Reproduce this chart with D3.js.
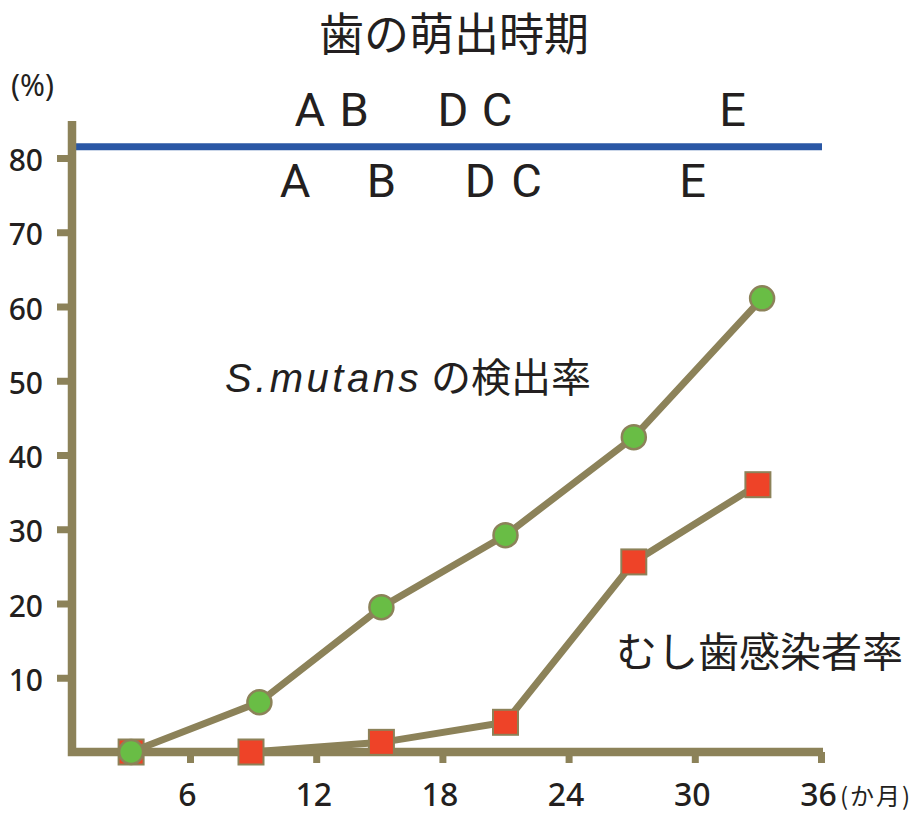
<!DOCTYPE html>
<html>
<head>
<meta charset="utf-8">
<script src="https://cdn.jsdelivr.net/npm/d3@7"></script>
<style>
  html, body { margin: 0; padding: 0; background: #fff; }
  svg { display: block; }
  text { fill: #231f20; }
</style>
</head>
<body>
<svg id="chart" width="919" height="814"></svg>
<script>
// Detection rate of S. mutans (%) by age in months
const mutansMonths = [3.2, 9.3, 15.1, 21.0, 27.1, 33.2];
const mutansRate   = [0, 6.7, 19.5, 29.2, 42.4, 61.1];

// Caries infection rate (%) by age in months
const cariesMonths = [3.2, 8.9, 15.1, 21.0, 27.1, 33.0];
const cariesRate   = [0, 0, 1.3, 4.0, 25.6, 36.0];

// Tooth eruption timing (months): upper row and lower row of letters
const eruptUpperTeeth  = ["A", "B", "D", "C", "E"];
const eruptUpperMonths = [11.7, 13.8, 18.5, 20.6, 31.8];
const eruptLowerTeeth  = ["A", "B", "D", "C", "E"];
const eruptLowerMonths = [11.0, 15.1, 19.8, 22.0, 29.9];
const eruptLineLevel = 81.5;

const xTicks = [6, 12, 18, 24, 30, 36];
const yTicks = [10, 20, 30, 40, 50, 60, 70, 80];

const AXIS = "#8c8259";
const GREEN = "#69bd45";
const RED = "#ee4328";
const BLUE = "#2a57a5";
const digitFont = "'Noto Sans', 'Open Sans', sans-serif";
const jpFont = "'Noto Sans CJK JP', sans-serif";

const svg = d3.select("#chart");

const x = d3.scaleLinear().domain([0, 36]).range([63.8, 821]);
const y = d3.scaleLinear().domain([0, 85]).range([752, 752 - 85 * 7.425]);
const axisX = 72; // horizontal position of the vertical axis

// Title
svg.append("text")
  .attr("x", 454).attr("y", 51)
  .attr("text-anchor", "middle")
  .style("font-family", jpFont)
  .style("font-size", "45px")
  .text("歯の萌出時期");

// Unit label
svg.append("text")
  .attr("x", 11).attr("y", 96)
  .style("font-family", digitFont)
  .style("font-size", "30px")
  .text("(%)");

// Eruption reference line
svg.append("line")
  .attr("x1", axisX).attr("x2", x(36) + 1)
  .attr("y1", y(eruptLineLevel)).attr("y2", y(eruptLineLevel))
  .attr("stroke", BLUE).attr("stroke-width", 7);

const letterStyle = sel => sel
  .attr("text-anchor", "middle")
  .style("font-family", "Roboto, 'Liberation Sans', sans-serif")
  .style("font-size", "47px");

svg.append("g").selectAll("text")
  .data(eruptUpperTeeth)
  .join("text")
  .attr("x", (d, i) => x(eruptUpperMonths[i]))
  .attr("y", y(eruptLineLevel) - 21)
  .call(letterStyle)
  .text(d => d);

svg.append("g").selectAll("text")
  .data(eruptLowerTeeth)
  .join("text")
  .attr("x", (d, i) => x(eruptLowerMonths[i]))
  .attr("y", y(eruptLineLevel) + 50)
  .call(letterStyle)
  .text(d => d);

// Axes: tick marks and labels
const yAxis = svg.append("g")
  .attr("transform", `translate(${axisX},0)`)
  .call(d3.axisLeft(y).tickValues(yTicks).tickSize(15).tickPadding(14).tickSizeOuter(0));
yAxis.select(".domain").remove();
yAxis.selectAll(".tick line").attr("stroke", AXIS).attr("stroke-width", 7);
yAxis.selectAll(".tick text")
  .attr("dy", "0.42em")
  .style("font-family", digitFont)
  .style("font-weight", 500)
  .style("font-size", "30px")
  .style("fill", "#231f20");

const xAxis = svg.append("g")
  .attr("transform", `translate(0,${y(0)})`)
  .call(d3.axisBottom(x).tickValues(xTicks).tickSize(11).tickPadding(20).tickSizeOuter(0));
xAxis.select(".domain").remove();
xAxis.selectAll(".tick line").attr("stroke", AXIS).attr("stroke-width", 7);
xAxis.selectAll(".tick text")
  .attr("dx", -3)
  .style("font-family", digitFont)
  .style("font-weight", 500)
  .style("font-size", "32px")
  .style("fill", "#231f20");

// Month unit after the last tick label
svg.append("text")
  .attr("x", x(36) + 19).attr("y", y(0) + 53)
  .style("font-family", jpFont)
  .style("font-size", "24px")
  .style("letter-spacing", "2px")
  .text("(か月)");

// Axis lines
svg.append("path")
  .attr("d", `M${axisX},${y(85)} V${y(0)} H${x(36) + 2}`)
  .attr("fill", "none")
  .attr("stroke", AXIS)
  .attr("stroke-width", 8.5)
  .attr("stroke-linejoin", "miter");

const mutansPts = mutansMonths.map((m, i) => [x(m), y(mutansRate[i])]);
const cariesPts = cariesMonths.map((m, i) => [x(m), y(cariesRate[i])]);
const line = d3.line();

// Caries series (drawn first so the circles sit on top)
svg.append("path")
  .attr("d", line(cariesPts))
  .attr("fill", "none")
  .attr("stroke", AXIS)
  .attr("stroke-width", 7);
const sq = 25;
svg.append("g").selectAll("rect")
  .data(cariesPts)
  .join("rect")
  .attr("x", d => d[0] - sq / 2)
  .attr("y", d => d[1] - sq / 2)
  .attr("width", sq).attr("height", sq)
  .attr("fill", RED)
  .attr("stroke", AXIS)
  .attr("stroke-width", 2);

// S. mutans series
svg.append("path")
  .attr("d", line(mutansPts))
  .attr("fill", "none")
  .attr("stroke", AXIS)
  .attr("stroke-width", 7);
svg.append("g").selectAll("circle")
  .data(mutansPts)
  .join("circle")
  .attr("cx", d => d[0])
  .attr("cy", d => d[1])
  .attr("r", 12)
  .attr("fill", GREEN)
  .attr("stroke", AXIS)
  .attr("stroke-width", 2.5);

// Series labels
const mutansLabel = svg.append("text")
  .attr("x", 225).attr("y", 392)
  .style("font-family", jpFont)
  .style("font-size", "40px");
mutansLabel.append("tspan")
  .style("font-family", "'Liberation Sans', Arial, sans-serif")
  .style("font-style", "italic")
  .style("letter-spacing", "3.5px")
  .text("S.mutans");
mutansLabel.append("tspan").text(" の検出率");

svg.append("text")
  .attr("x", 616).attr("y", 667)
  .style("font-family", jpFont)
  .style("font-size", "41px")
  .text("むし歯感染者率");
</script>
</body>
</html>
